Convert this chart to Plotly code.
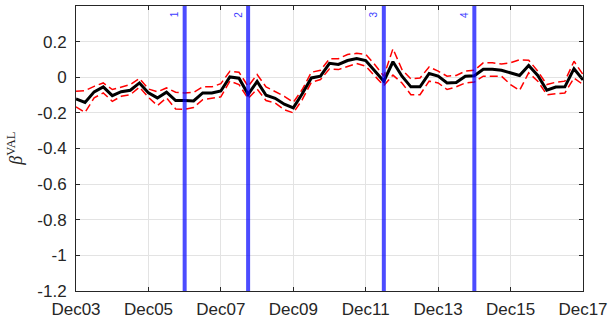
import pandas as pd
import plotly.graph_objects as go

# Quarterly dates Dec 2003 .. Dec 2017
dates = pd.date_range("2003-12-01", "2017-12-01", freq="3MS").strftime("%Y-%m-%d").tolist()

beta = [-0.122, -0.141, -0.082, -0.054, -0.103, -0.081, -0.073, -0.032, -0.088, -0.116,
        -0.084, -0.131, -0.131, -0.133, -0.088, -0.088, -0.077, 0.002, -0.005, -0.096,
        -0.024, -0.101, -0.118, -0.151, -0.172, -0.093, -0.004, 0.006, 0.078, 0.072,
        0.094, 0.105, 0.094, 0.034, -0.022, 0.087, 0.006, -0.054, -0.054, 0.021,
        0.006, -0.032, -0.030, 0.006, 0.008, 0.045, 0.045, 0.039, 0.025, 0.010,
        0.066, 0.010, -0.073, -0.055, -0.054, 0.048, -0.015]

upper = [-0.079, -0.075, -0.051, -0.032, -0.069, -0.054, -0.041, -0.007, -0.066, -0.082,
         -0.060, -0.084, -0.088, -0.085, -0.054, -0.054, -0.036, 0.034, 0.028, -0.051,
         0.015, -0.054, -0.079, -0.107, -0.141, -0.069, 0.028, 0.039, 0.104, 0.104,
         0.128, 0.134, 0.128, 0.071, 0.006, 0.160, 0.043, -0.009, -0.004, 0.058,
         0.034, 0.006, 0.010, 0.034, 0.039, 0.081, 0.081, 0.075, 0.081, 0.098,
         0.096, 0.034, -0.041, -0.028, -0.022, 0.090, 0.015]

lower = [-0.167, -0.197, -0.116, -0.088, -0.135, -0.107, -0.098, -0.056, -0.113, -0.159,
         -0.116, -0.178, -0.180, -0.170, -0.126, -0.116, -0.110, -0.022, -0.041, -0.120,
         -0.066, -0.131, -0.144, -0.182, -0.200, -0.126, -0.028, -0.013, 0.047, 0.043,
         0.062, 0.077, 0.062, 0.006, -0.047, 0.012, -0.032, -0.098, -0.098, -0.022,
         -0.032, -0.069, -0.054, -0.032, -0.027, 0.006, 0.006, 0.006, -0.041, -0.074,
         0.025, -0.022, -0.098, -0.092, -0.088, -0.004, -0.041]

event_dates = ["2006-12-01", "2008-09-01", "2012-06-01", "2014-12-01"]
event_labels = ["1", "2", "3", "4"]

xtick_vals = ["2003-12-01", "2005-12-01", "2007-12-01", "2009-12-01",
              "2011-12-01", "2013-12-01", "2015-12-01", "2017-12-01"]
xtick_text = ["Dec03", "Dec05", "Dec07", "Dec09", "Dec11", "Dec13", "Dec15", "Dec17"]
ytick_vals = [-1.2, -1.0, -0.8, -0.6, -0.4, -0.2, 0.0, 0.2]
ytick_text = ["-1.2", "-1", "-0.8", "-0.6", "-0.4", "-0.2", "0", "0.2"]

fig = go.Figure()
for band in (upper, lower):
    fig.add_trace(go.Scatter(x=dates, y=band, mode="lines",
                             line=dict(color="#ff0000", width=1.5, dash="8px,4px"),
                             showlegend=False, hoverinfo="skip"))
fig.add_trace(go.Scatter(x=dates, y=beta, mode="lines",
                         line=dict(color="black", width=3), showlegend=False))

for d, lab in zip(event_dates, event_labels):
    fig.add_shape(type="line", xref="x", yref="paper", x0=d, x1=d, y0=0, y1=1,
                  line=dict(color="rgba(0,0,255,0.7)", width=4), layer="above")
    fig.add_annotation(x=d, y=0.97, xref="x", yref="paper", text=lab, showarrow=False,
                       textangle=-90, xshift=-10, yanchor="middle",
                       font=dict(family="Liberation Sans, Arial, sans-serif", size=10,
                                 color="rgb(60,60,255)"))

fig.add_annotation(xref="paper", yref="paper", x=-0.12, y=0.5, xanchor="center",
                   yanchor="middle", textangle=-90, showarrow=False,
                   text="<i>β</i><sup>VAL</sup>",
                   font=dict(family="Liberation Serif, DejaVu Serif, serif", size=18,
                             color="#262626"))

axis_common = dict(showgrid=True, gridcolor="#e3e3e3", gridwidth=1,
                   showline=True, linecolor="#262626", linewidth=1,
                   mirror="ticks", ticks="inside", ticklen=4, tickcolor="#262626",
                   zeroline=False, automargin=False,
                   tickfont=dict(family="Liberation Sans, Arial, sans-serif", size=17,
                                 color="#262626"))

fig.update_xaxes(type="date", range=["2003-12-01", "2017-12-01"],
                 tickvals=xtick_vals, ticktext=xtick_text, ticklabelstandoff=3,
                 **axis_common)
fig.update_yaxes(range=[-1.2, 0.4], tickvals=ytick_vals, ticktext=ytick_text,
                 ticklabelstandoff=5, **axis_common)

fig.update_layout(width=610, height=324, margin=dict(l=76, r=27, t=6, b=33),
                  plot_bgcolor="white", paper_bgcolor="white")

fig.write_html("out.html", config={"displayModeBar": False},
               post_script="document.body.style.margin='0';")
